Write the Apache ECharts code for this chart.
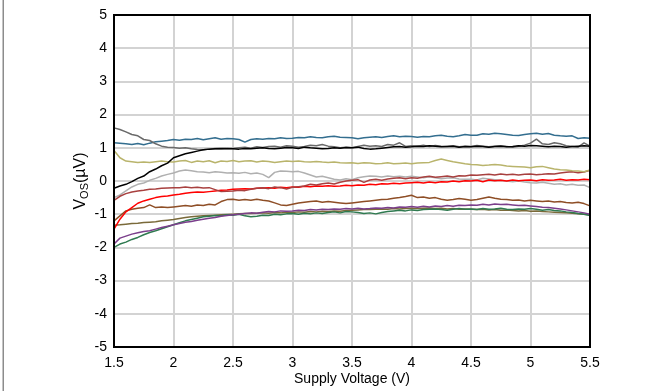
<!DOCTYPE html>
<html><head><meta charset="utf-8">
<script src="https://cdn.jsdelivr.net/npm/echarts@6/dist/echarts.min.js"></script>
<style>html,body{margin:0;padding:0;background:#fff}#c{width:665px;height:391px}</style>
</head><body><div id="c"></div>
<script>
var supplyV = [1.5,1.55,1.6,1.65,1.7,1.75,1.8,1.85,1.9,1.95,
2,2.05,2.1,2.15,2.2,2.25,2.3,2.35,2.4,2.45,
2.5,2.55,2.6,2.65,2.7,2.75,2.8,2.85,2.9,2.95,
3,3.05,3.1,3.15,3.2,3.25,3.3,3.35,3.4,3.45,
3.5,3.55,3.6,3.65,3.7,3.75,3.8,3.85,3.9,3.95,
4,4.05,4.1,4.15,4.2,4.25,4.3,4.35,4.4,4.45,
4.5,4.55,4.6,4.65,4.7,4.75,4.8,4.85,4.9,4.95,
5,5.05,5.1,5.15,5.2,5.25,5.3,5.35,5.4,5.45,5.5];

var xTicks = [1.5,2,2.5,3,3.5,4,4.5,5,5.5];
var yTicks = [-5,-4,-3,-2,-1,0,1,2,3,4,5];

var unitTeal = [1.15,1.14,1.12,1.10,1.13,1.09,1.14,1.18,1.20,1.22,
1.25,1.23,1.26,1.25,1.28,1.24,1.27,1.30,1.26,1.28,
1.27,1.25,1.17,1.25,1.27,1.26,1.28,1.27,1.30,1.28,
1.29,1.31,1.30,1.33,1.31,1.30,1.33,1.35,1.32,1.31,
1.30,1.27,1.30,1.32,1.33,1.31,1.34,1.36,1.33,1.35,
1.34,1.32,1.34,1.33,1.36,1.38,1.35,1.33,1.36,1.40,
1.38,1.38,1.42,1.41,1.44,1.42,1.40,1.38,1.37,1.40,
1.42,1.44,1.41,1.43,1.38,1.36,1.35,1.36,1.28,1.30,
1.29];

var unitDarkGray = [1.60,1.55,1.48,1.40,1.36,1.25,1.22,1.12,1.05,1.02,
1.01,0.99,1.00,0.97,0.95,0.94,0.96,0.98,0.97,0.99,
0.98,1.00,1.02,0.99,1.03,1.01,1.04,1.05,1.02,1.06,
1.05,1.02,1.04,1.08,1.06,1.10,1.05,1.03,1.00,1.02,
1.00,1.04,1.08,1.05,1.06,1.04,1.10,1.08,1.15,1.04,
1.06,1.05,1.08,1.04,1.07,1.05,1.04,1.06,1.03,1.05,
1.04,1.07,1.05,1.03,1.05,1.06,1.04,1.02,1.05,1.08,
1.14,1.26,1.12,1.10,1.15,1.12,1.06,1.04,1.02,1.15,
1.05];

var unitBlack = [-0.22,-0.15,-0.10,-0.02,0.08,0.15,0.28,0.36,0.46,0.54,
0.70,0.76,0.82,0.86,0.90,0.94,0.96,0.97,0.98,0.97,
0.97,0.96,0.98,0.97,0.99,1.00,0.98,0.97,0.99,1.01,
1.00,0.98,1.02,1.00,0.99,0.97,0.98,1.00,0.99,1.01,
1.00,1.02,0.98,0.96,0.97,0.99,1.01,1.03,1.04,1.02,
1.03,1.05,1.04,1.06,1.05,1.03,1.04,1.05,1.02,1.04,
1.03,1.05,1.04,1.02,1.04,1.05,1.03,1.04,1.06,1.05,
1.07,1.06,1.05,1.03,1.05,1.04,1.02,1.04,1.05,1.06,
1.05];

var unitOlive = [0.92,0.70,0.60,0.58,0.56,0.57,0.56,0.58,0.60,0.58,
0.57,0.60,0.62,0.56,0.60,0.58,0.61,0.55,0.60,0.59,
0.62,0.58,0.60,0.61,0.57,0.60,0.59,0.56,0.58,0.60,
0.59,0.60,0.58,0.57,0.59,0.57,0.56,0.57,0.55,0.54,
0.55,0.53,0.55,0.54,0.52,0.53,0.55,0.52,0.53,0.54,
0.52,0.54,0.55,0.56,0.62,0.66,0.62,0.58,0.55,0.52,
0.50,0.49,0.47,0.48,0.50,0.48,0.45,0.44,0.43,0.42,
0.40,0.43,0.44,0.40,0.36,0.34,0.33,0.31,0.30,0.28,
0.33];

var unitLightGray = [-0.50,-0.42,-0.30,-0.18,-0.10,-0.06,0.02,0.08,0.15,0.20,
0.24,0.30,0.33,0.31,0.28,0.27,0.25,0.28,0.26,0.24,
0.25,0.23,0.26,0.22,0.24,0.20,0.10,0.26,0.30,0.29,
0.28,0.29,0.24,0.18,0.12,0.14,0.10,0.05,0.03,0.07,
0.04,0.10,0.13,0.15,0.14,0.12,0.15,0.13,0.14,0.12,
0.14,0.12,0.10,0.13,0.10,0.07,0.09,0.10,0.06,0.05,
0.05,0.03,0.08,0.06,0.04,0.02,0.00,-0.02,0.00,-0.03,
-0.05,-0.06,-0.04,-0.07,-0.10,-0.08,-0.12,-0.10,-0.13,-0.12,
-0.20];

var unitDarkRed = [-0.58,-0.46,-0.38,-0.33,-0.30,-0.28,-0.25,-0.24,-0.22,-0.21,
-0.20,-0.20,-0.18,-0.20,-0.19,-0.21,-0.20,-0.26,-0.32,-0.31,
-0.30,-0.28,-0.29,-0.25,-0.22,-0.20,-0.23,-0.18,-0.20,-0.24,
-0.19,-0.17,-0.15,-0.10,-0.12,-0.08,-0.06,-0.09,-0.04,0.00,
0.02,0.04,-0.04,0.03,0.05,0.02,0.06,0.08,0.10,0.07,
0.10,0.08,0.12,0.14,0.11,0.13,0.15,0.12,0.16,0.15,
0.18,0.17,0.19,0.20,0.18,0.21,0.19,0.20,0.18,0.20,
0.21,0.19,0.20,0.22,0.21,0.24,0.26,0.28,0.25,0.27,
0.32];

var unitRed = [-1.45,-1.15,-0.93,-0.80,-0.67,-0.60,-0.55,-0.50,-0.47,-0.45,
-0.42,-0.40,-0.37,-0.35,-0.33,-0.34,-0.32,-0.30,-0.28,-0.27,
-0.25,-0.24,-0.23,-0.24,-0.22,-0.21,-0.20,-0.22,-0.19,-0.20,
-0.18,-0.19,-0.16,-0.17,-0.15,-0.16,-0.14,-0.16,-0.15,-0.13,
-0.14,-0.12,-0.13,-0.10,-0.11,-0.08,-0.09,-0.07,-0.08,-0.06,
-0.05,-0.04,-0.06,-0.03,-0.05,-0.02,-0.03,0.00,-0.02,0.01,
0.00,0.02,-0.02,0.03,0.01,0.02,0.00,0.03,0.01,0.02,
0.03,0.01,0.04,0.02,0.03,0.05,0.02,0.04,0.03,0.05,
0.04];

var unitBrown = [-1.20,-1.05,-0.90,-0.85,-0.82,-0.80,-0.72,-0.80,-0.78,-0.80,
-0.78,-0.76,-0.74,-0.76,-0.72,-0.74,-0.70,-0.72,-0.62,-0.56,
-0.55,-0.58,-0.56,-0.58,-0.55,-0.58,-0.60,-0.66,-0.72,-0.74,
-0.70,-0.66,-0.64,-0.62,-0.60,-0.64,-0.62,-0.64,-0.66,-0.68,
-0.66,-0.64,-0.62,-0.60,-0.58,-0.56,-0.55,-0.52,-0.50,-0.47,
-0.43,-0.50,-0.48,-0.52,-0.50,-0.55,-0.58,-0.56,-0.53,-0.55,
-0.58,-0.56,-0.52,-0.48,-0.52,-0.55,-0.56,-0.58,-0.57,-0.60,
-0.58,-0.60,-0.62,-0.60,-0.63,-0.62,-0.65,-0.66,-0.64,-0.68,
-0.75];

var unitOliveBrown = [-1.33,-1.32,-1.30,-1.28,-1.27,-1.25,-1.24,-1.23,-1.20,-1.18,
-1.16,-1.13,-1.10,-1.08,-1.06,-1.05,-1.04,-1.03,-1.02,-1.01,
-1.00,-0.99,-0.98,-0.98,-0.97,-0.96,-0.97,-0.95,-0.96,-0.94,
-0.95,-0.93,-0.94,-0.92,-0.93,-0.91,-0.92,-0.90,-0.91,-0.89,
-0.88,-0.87,-0.86,-0.86,-0.85,-0.84,-0.85,-0.83,-0.84,-0.83,
-0.82,-0.83,-0.82,-0.81,-0.83,-0.82,-0.84,-0.83,-0.85,-0.84,
-0.85,-0.86,-0.85,-0.87,-0.86,-0.88,-0.87,-0.89,-0.90,-0.89,
-0.91,-0.90,-0.92,-0.93,-0.94,-0.95,-0.96,-0.97,-0.99,-1.00,
-1.02];

var unitPurple = [-1.90,-1.72,-1.66,-1.60,-1.56,-1.52,-1.50,-1.45,-1.40,-1.36,
-1.32,-1.28,-1.24,-1.22,-1.18,-1.15,-1.12,-1.10,-1.06,-1.04,
-1.02,-1.00,-0.98,-0.96,-0.97,-0.94,-0.92,-0.93,-0.90,-0.91,
-0.90,-0.88,-0.89,-0.86,-0.87,-0.85,-0.86,-0.84,-0.85,-0.83,
-0.84,-0.82,-0.84,-0.83,-0.81,-0.82,-0.80,-0.81,-0.78,-0.79,
-0.77,-0.79,-0.76,-0.78,-0.75,-0.77,-0.74,-0.76,-0.73,-0.74,
-0.72,-0.73,-0.70,-0.72,-0.69,-0.71,-0.70,-0.72,-0.74,-0.73,
-0.75,-0.77,-0.79,-0.80,-0.82,-0.84,-0.87,-0.90,-0.93,-0.96,
-1.00];

var unitGreen = [-2.00,-1.90,-1.84,-1.76,-1.70,-1.62,-1.55,-1.50,-1.44,-1.38,
-1.32,-1.26,-1.20,-1.16,-1.12,-1.08,-1.06,-1.04,-1.05,-1.02,
-1.03,-1.00,-1.05,-1.08,-1.06,-1.03,-1.04,-1.00,-1.02,-0.99,
-0.98,-1.00,-0.97,-0.99,-0.96,-0.98,-0.95,-0.93,-0.96,-0.92,
-0.93,-0.95,-0.98,-0.96,-0.99,-0.95,-0.92,-0.90,-0.88,-0.90,
-0.87,-0.89,-0.86,-0.85,-0.84,-0.86,-0.88,-0.85,-0.83,-0.85,
-0.84,-0.86,-0.83,-0.85,-0.84,-0.82,-0.85,-0.86,-0.84,-0.85,
-0.83,-0.85,-0.88,-0.86,-0.89,-0.90,-0.93,-0.95,-0.98,-1.00,
-1.04];

var seriesList = [
  {name:'u1', color:'#7a6a3a', data:unitOliveBrown},
  {name:'u2', color:'#2f7a50', data:unitGreen},
  {name:'u3', color:'#7b3f8c', data:unitPurple},
  {name:'u4', color:'#8e4e26', data:unitBrown},
  {name:'u5', color:'#b0b0b0', data:unitLightGray},
  {name:'u6', color:'#ff0000', data:unitRed},
  {name:'u7', color:'#a8403f', data:unitDarkRed},
  {name:'u8', color:'#b9b46c', data:unitOlive},
  {name:'u9', color:'#336e8f', data:unitTeal},
  {name:'u10', color:'#6a6a6a', data:unitDarkGray},
  {name:'u11', color:'#000000', data:unitBlack}
];

var chart = echarts.init(document.getElementById('c'), null, {renderer:'canvas'});
var font = 'Arial, "Liberation Sans", sans-serif';
chart.setOption({
  animation:false,
  backgroundColor:'#fff',
  grid:{left:114, right:75, top:15, bottom:40, show:true, borderColor:'#000', borderWidth:2, backgroundColor:'transparent', z:10},
  graphic:[{type:'rect', shape:{x:2.5, y:0, width:1.5, height:391}, style:{fill:'#8c8c8c'}}],
  xAxis:{type:'value', min:xTicks[0], max:xTicks[xTicks.length-1], interval:xTicks[1]-xTicks[0],
    name:'Supply Voltage (V)', nameLocation:'middle', nameGap:25, nameMoveOverlap:false,
    nameTextStyle:{color:'#000', fontSize:14, fontFamily:font},
    axisLine:{show:true, onZero:false, lineStyle:{color:'#000', width:2}}, axisTick:{show:false},
    axisLabel:{color:'#000', fontSize:14, fontFamily:font, margin:9},
    splitLine:{show:true, lineStyle:{color:'#d3d3d3', width:2}}},
  yAxis:{type:'value', min:yTicks[0], max:yTicks[yTicks.length-1], interval:1,
    name:'{a|V}{b|OS}{a|(µV)}', nameLocation:'middle', nameGap:24, nameRotate:90, nameMoveOverlap:false,
    nameTextStyle:{rich:{a:{color:'#000', fontSize:16, fontFamily:font}, b:{color:'#000', fontSize:11, fontFamily:font, verticalAlign:'bottom', padding:[7,0,0,0]}}},
    axisLine:{show:true, onZero:false, lineStyle:{color:'#000', width:2}}, axisTick:{show:false},
    axisLabel:{color:'#000', fontSize:14, fontFamily:font, margin:7},
    splitLine:{show:true, lineStyle:{color:'#d3d3d3', width:2}}},
  series: seriesList.map(function(s){
    return {type:'line', name:s.name, symbol:'none', smooth:false,
      lineStyle:{color:s.color, width:1.5}, itemStyle:{color:s.color},
      data: s.data.map(function(v,i){return [supplyV[i], v];})};
  })
});
</script></body></html>
